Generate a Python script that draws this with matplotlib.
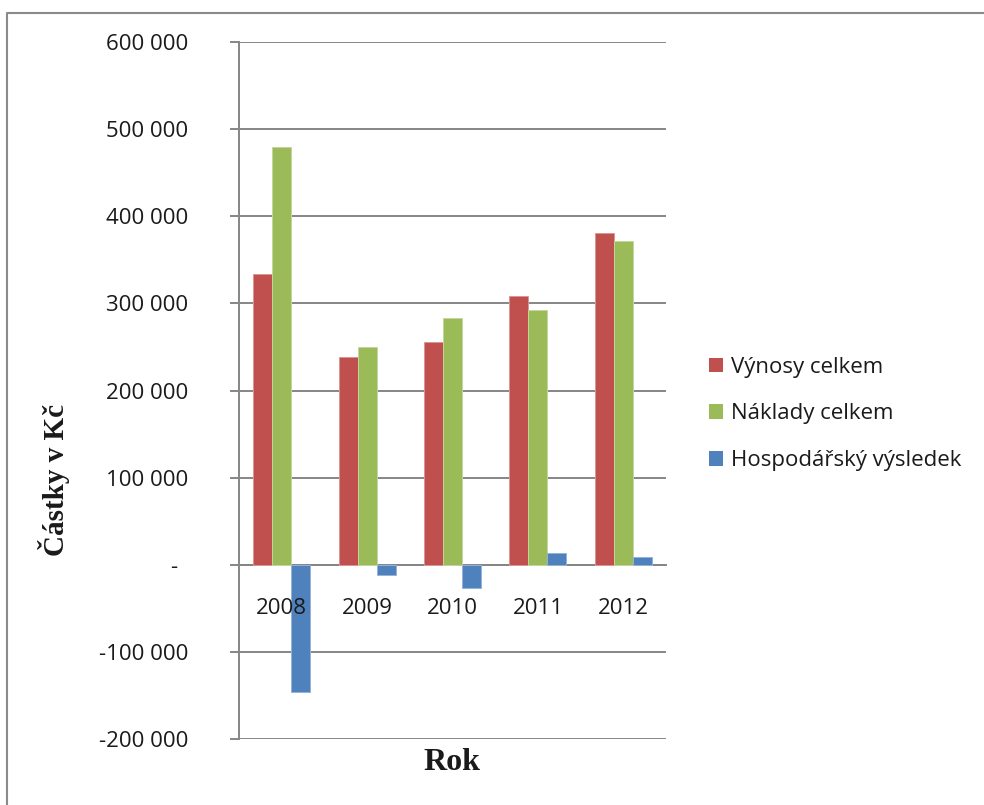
import matplotlib
matplotlib.use("Agg")
import matplotlib.pyplot as plt
import numpy as np
from matplotlib.ticker import FuncFormatter, MultipleLocator
from matplotlib.transforms import ScaledTranslation
from matplotlib.lines import Line2D

years = ["2008", "2009", "2010", "2011", "2012"]
vynosy = [334000, 238000, 256000, 308000, 381000]
naklady = [480000, 250000, 283000, 292000, 372000]
vysledek = [-146000, -12000, -27000, 14000, 8500]
series_names = ["Výnosy celkem", "Náklady celkem", "Hospodářský výsledek"]
colors = ["#C0504D", "#9BBB59", "#4F81BD"]
edges = ["#D99694", "#C3D69B", "#95B3D7"]

W, H = 984, 805
fig = plt.figure(figsize=(W / 100, H / 100), dpi=100)
ax = fig.add_axes([239 / W, 1 - 739 / H, (666 - 239) / W, (739 - 42) / H])

grid_c = "#868686"
font = "Open Sans"
x = np.arange(len(years))
w = 0.2225
for i, (vals, name) in enumerate(zip([vynosy, naklady, vysledek], series_names)):
    ax.bar(x + (i - 1) * w, vals, width=w, color=colors[i], edgecolor=edges[i],
           linewidth=0.7, label=name, zorder=3)

ax.set_xlim(-0.5, len(years) - 0.5)
ax.set_ylim(-200000, 600000)
ax.yaxis.set_major_locator(MultipleLocator(100000))
ax.yaxis.grid(True, color=grid_c, linewidth=1.4, zorder=1)
ax.set_axisbelow(True)

def fmt(v, pos):
    if abs(v) < 1:
        return "-"
    return f"{int(round(v)):,}".replace(",", " ")

ax.yaxis.set_major_formatter(FuncFormatter(fmt))
ax.tick_params(axis="y", direction="out", length=6.5, width=1.4, color=grid_c,
               pad=30, labelsize=16, labelcolor="#1a1a1a", labelfontfamily=font)

ax.set_xticks(x)
ax.set_xticklabels(years)
ax.tick_params(axis="x", length=0, pad=24, labelsize=16, labelcolor="#1a1a1a",
               labelfontfamily=font)
ax.xaxis.set_zorder(5)

for s in ["top", "right"]:
    ax.spines[s].set_visible(False)
ax.spines["bottom"].set_position(("data", 0))
ax.spines["bottom"].set_color(grid_c)
ax.spines["bottom"].set_linewidth(1.4)
ax.spines["left"].set_color(grid_c)
ax.spines["left"].set_linewidth(1.4)

# shift the "-" zero label left as in the reference
fig.canvas.draw()
for lab in ax.get_yticklabels():
    if lab.get_text() == "-":
        lab.set_transform(lab.get_transform() + ScaledTranslation(-11 / 100, 0, fig.dpi_scale_trans))

fig.text(54 / W, 1 - 480 / H, "Částky v Kč", rotation=90, ha="center", va="center",
         fontfamily="Liberation Serif", fontweight="bold", fontsize=21, color="#1a1a1a")
fig.text(452 / W, 1 - 762 / H, "Rok", ha="center", va="center",
         fontfamily="Liberation Serif", fontweight="bold", fontsize=23, color="#1a1a1a")

leg = fig.legend(loc="center left", bbox_to_anchor=(709 / W, 1 - 414 / H),
                 frameon=False, prop={"family": font, "size": 16},
                 handlelength=0.63, handleheight=0.63, handletextpad=0.35,
                 labelspacing=1.16, borderpad=0, borderaxespad=0)
for t in leg.get_texts():
    t.set_color("#1a1a1a")
for h in leg.legend_handles:
    h.set_edgecolor("none")

# outer frame
fig.add_artist(Line2D([7 / W, 7 / W, 1.0], [0, 1 - 12.7 / H, 1 - 12.7 / H],
                      transform=fig.transFigure, color="#8a8a8a", linewidth=1.5))

fig.savefig("out.png", dpi=100)
